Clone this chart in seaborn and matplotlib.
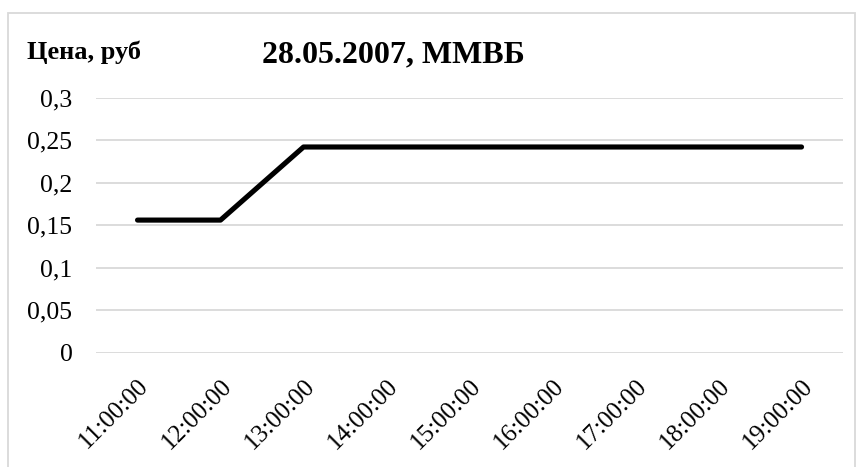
import matplotlib
matplotlib.use("Agg")
import matplotlib.pyplot as plt
import seaborn as sns
from matplotlib.patches import Rectangle
from matplotlib.ticker import FuncFormatter

# данные
times = ["11:00:00", "12:00:00", "13:00:00", "14:00:00", "15:00:00",
         "16:00:00", "17:00:00", "18:00:00", "19:00:00"]
prices = [0.156, 0.156, 0.242, 0.242, 0.242, 0.242, 0.242, 0.242, 0.242]
y_ticks = [0, 0.05, 0.1, 0.15, 0.2, 0.25, 0.3]

sns.set_style("white")
plt.rcParams['font.family'] = ['Liberation Serif', 'DejaVu Serif']
plt.rcParams['text.color'] = 'black'
plt.rcParams['xtick.color'] = 'black'
plt.rcParams['ytick.color'] = 'black'

fig = plt.figure(figsize=(8.62, 4.67), dpi=100)
ax = fig.add_axes([0.1114, 0.2448, 0.8666, 0.546])

sns.lineplot(x=times, y=prices, sort=False, color="black", linewidth=3.7,
             solid_capstyle="round", ax=ax)

ax.set_xlim(-0.5, len(times) - 0.5)
ax.set_ylim(0, 0.3)
ax.set_yticks(y_ticks)
ax.yaxis.set_major_formatter(FuncFormatter(lambda v, p: f"{v:g}".replace(".", ",")))
ax.grid(axis="y", color="#d9d9d9", linewidth=1.3)
ax.grid(axis="x", visible=False)
ax.set_axisbelow(True)
for s in ax.spines.values():
    s.set_visible(False)
ax.tick_params(axis="y", length=0, labelsize=18.5, pad=17, labelcolor="black")
ax.tick_params(axis="x", length=0, labelsize=18, pad=16, labelcolor="black")
plt.setp(ax.get_xticklabels(), rotation=45, ha="right", rotation_mode="anchor")
ax.set_xlabel("")
ax.set_ylabel("")

fig.text(0.456, 0.867, "28.05.2007, ММВБ", fontsize=23, fontweight="bold",
         ha="center", va="baseline", color="black")
fig.text(0.031, 0.874, "Цена, руб", fontsize=19, fontweight="bold",
         ha="left", va="baseline", color="black")

# рамка области диаграммы
fig.patches.append(Rectangle((0.0098, -0.01), 0.982, 0.982, transform=fig.transFigure,
                             fill=False, edgecolor="#d9d9d9", linewidth=1.3))

fig.savefig("out.png", dpi=100)
